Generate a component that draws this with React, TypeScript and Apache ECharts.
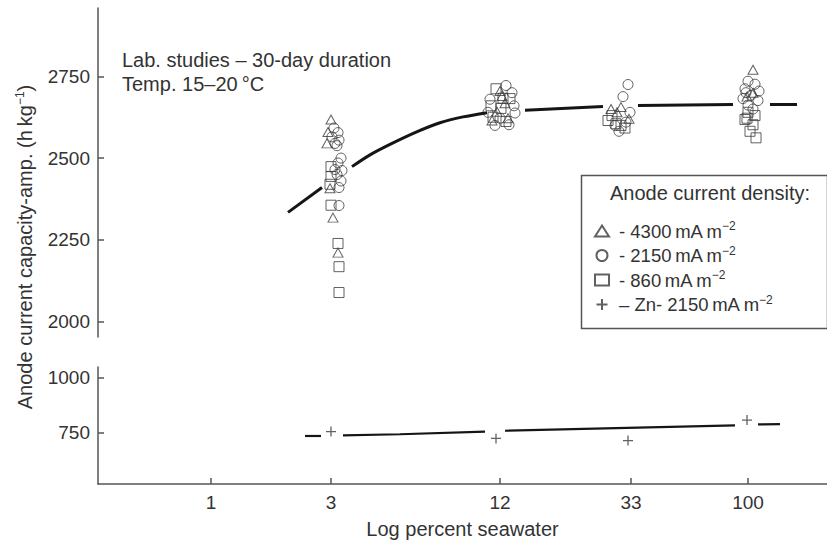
import React, { useEffect, useRef } from 'react';
import * as echarts from 'echarts';

// x-axis (log percent seawater) tick labels and their positions on the axis
const seawaterLabels = ['1', '3', '12', '33', '100'];
const seawaterPos = [113, 233, 402, 533, 650];

const upperTicks = [2000, 2250, 2500, 2750];
const lowerTicks = [750, 1000];

// points: [tick index, horizontal scatter offset, capacity value]
const tri4300 = [
  [1, 0, 2618], [1, -3, 2580], [1, -4, 2545], [1, -1, 2408], [1, 2, 2318], [1, 7, 2211],
  [2, 0, 2705], [2, 5, 2668], [2, -3, 2642], [2, 8, 2622], [2, 2, 2690], [2, -8, 2615],
  [3, -10, 2656], [3, -14, 2640], [3, -2, 2620], [3, -20, 2650],
  [4, 5, 2770], [4, 5, 2700], [4, -1, 2688],
];
const circ2150 = [
  [1, 3, 2592], [1, 7, 2578], [1, 1, 2565], [1, 8, 2555], [1, 4, 2545], [1, 6, 2538],
  [1, 10, 2500], [1, 7, 2485], [1, 11, 2462], [1, 6, 2450], [1, 10, 2430], [1, 8, 2410], [1, 4, 2465], [1, 8, 2355],
  [2, 6, 2722], [2, 12, 2700], [2, -10, 2680], [2, 14, 2660], [2, -12, 2640], [2, 0, 2622], [2, 9, 2602], [2, 15, 2638], [2, -5, 2600],
  [3, -3, 2725], [3, -8, 2688], [3, -1, 2640], [3, -16, 2600], [3, -5, 2610], [3, -12, 2582],
  [4, 0, 2735], [4, 7, 2726], [4, -3, 2712], [4, 11, 2705], [4, 3, 2692], [4, -5, 2682], [4, 10, 2676], [4, 0, 2662], [4, 5, 2650], [4, -2, 2700],
];
const sq860 = [
  [1, 0, 2474], [1, 0, 2444], [1, -1, 2420], [1, 0, 2356], [1, 7, 2239], [1, 8, 2168], [1, 8, 2089],
  [2, -4, 2712], [2, 3, 2683], [2, -9, 2660], [2, 10, 2682], [2, 1, 2652], [2, 6, 2612], [2, -7, 2625],
  [3, -19, 2630], [3, -23, 2615], [3, -10, 2600], [3, -6, 2592], [3, -15, 2605],
  [4, 0, 2640], [4, 7, 2630], [4, -3, 2618], [4, 5, 2602], [4, 2, 2582], [4, 8, 2562], [4, -1, 2622],
];
const zn2150 = [
  [1, 0, 753], [2, -4, 722], [3, -3, 712], [4, -1, 806],
];

// fitted curve for magnesium/aluminium anodes (null = gap around the data clusters)
const fitX = [190, 224, null, 254, 272, 292, 317, 342, 365, 389, null, 427, 505, null, 540, 635, null, 672, 699];
const fitY = [2334, 2410, null, 2474, 2510, 2542, 2578, 2608, 2626, 2639, null, 2646, 2658, null, 2661, 2664, null, 2664, 2664];

// fitted line for zinc anodes
const znX = [207, 223, null, 245, 302, 387, null, 407, 637, null, 660, 682];
const znY = [733, 733, null, 736, 741, 753, null, 757, 782, null, 786, 787];

const FONT = '"Liberation Sans", Arial, Helvetica, sans-serif';
const TEXT = '#333';
const AXIS = '#555';
const TS = '\u2009';

function segments(xs: (number | null)[], ys: (number | null)[]) {
  const out: number[][][] = [];
  let cur: number[][] = [];
  xs.forEach((x, i) => {
    const y = ys[i];
    if (x === null || y === null) {
      if (cur.length) out.push(cur);
      cur = [];
    } else {
      cur.push([x, y]);
    }
  });
  if (cur.length) out.push(cur);
  return out;
}

const toXY = (pts: number[][]) => pts.map((p) => [seawaterPos[p[0]] + p[1], p[2]]);

const legendText: Record<string, string> = {
  '4300': `{t|- 4300${TS}mA${TS}m}{s|−2}`,
  '2150': `{t|- 2150${TS}mA${TS}m}{s|−2}`,
  '860': `{t|- 860${TS}mA${TS}m}{s|−2}`,
  Zn: `{t|– Zn- 2150${TS}mA${TS}m}{s|−2}`,
};

export default function App() {
  const ref = useRef<HTMLDivElement>(null);

  useEffect(() => {
    if (!ref.current) return;
    const chart = echarts.init(ref.current, undefined, { renderer: 'svg' });

    const symStyle = { color: 'rgba(0,0,0,0)', borderColor: '#3a3a3a', borderWidth: 1 };

    const curveSeries = segments(fitX, fitY).map((seg) => ({
      type: 'line',
      xAxisIndex: 0,
      yAxisIndex: 0,
      data: seg,
      smooth: 0.3,
      showSymbol: false,
      symbol: 'none',
      lineStyle: { color: '#151515', width: 3 },
      silent: true,
    }));
    const znSeries = segments(znX, znY).map((seg) => ({
      type: 'line',
      xAxisIndex: 1,
      yAxisIndex: 1,
      data: seg,
      showSymbol: false,
      symbol: 'none',
      lineStyle: { color: '#151515', width: 2.2 },
      silent: true,
    }));

    const xCommon = {
      type: 'value',
      min: 0,
      max: 729,
      splitLine: { show: false },
    };

    const yLabel = {
      fontSize: 19,
      color: TEXT,
      fontFamily: FONT,
      margin: 8,
      formatter: (v: number) => String(v),
    };

    chart.setOption({
      animation: false,
      backgroundColor: '#fff',
      textStyle: { fontFamily: FONT },
      grid: [
        { left: 98, right: 0, top: 8, height: 329 },
        { left: 98, right: 0, top: 367, height: 117 },
      ],
      xAxis: [
        { ...xCommon, gridIndex: 0, show: false },
        {
          ...xCommon,
          gridIndex: 1,
          axisLine: { show: true, lineStyle: { color: AXIS, width: 1.5 } },
          axisTick: {
            show: true,
            inside: true,
            length: 6,
            customValues: seawaterPos,
            lineStyle: { color: AXIS, width: 1.5 },
          },
          axisLabel: {
            customValues: seawaterPos,
            formatter: (v: number) => {
              const i = seawaterPos.indexOf(v);
              return i >= 0 ? seawaterLabels[i] : '';
            },
            fontSize: 19,
            color: TEXT,
            fontFamily: FONT,
            margin: 9,
          },
          name: 'Log percent seawater',
          nameLocation: 'middle',
          nameGap: 35,
          nameTextStyle: { fontSize: 20, color: TEXT, fontFamily: FONT },
        },
      ],
      yAxis: [
        {
          type: 'value',
          gridIndex: 0,
          min: 1953,
          max: 2959,
          splitLine: { show: false },
          axisLine: { show: true, lineStyle: { color: AXIS, width: 1.5 } },
          axisTick: { show: true, inside: true, length: 6, customValues: upperTicks, lineStyle: { color: AXIS, width: 1.5 } },
          axisLabel: { ...yLabel, customValues: upperTicks },
        },
        {
          type: 'value',
          gridIndex: 1,
          min: 513,
          max: 1049,
          splitLine: { show: false },
          axisLine: { show: true, lineStyle: { color: AXIS, width: 1.5 } },
          axisTick: { show: true, inside: true, length: 6, customValues: lowerTicks, lineStyle: { color: AXIS, width: 1.5 } },
          axisLabel: { ...yLabel, customValues: lowerTicks },
        },
      ],
      legend: {
        data: ['4300', '2150', '860', 'Zn'],
        orient: 'vertical',
        left: 589,
        top: 215,
        itemGap: 4,
        itemWidth: 14,
        itemHeight: 11,
        formatter: (name: string) => legendText[name],
        selectedMode: false,
        textStyle: {
          rich: {
            t: { fontSize: 18.5, color: TEXT, fontFamily: FONT, lineHeight: 22, padding: [0, 0, 0, 5] },
            s: { fontSize: 12, color: TEXT, fontFamily: FONT, lineHeight: 13, verticalAlign: 'top' },
          },
        },
      },
      graphic: [
        {
          type: 'rect',
          left: 579,
          top: 173,
          shape: { width: 246, height: 153 },
          style: { fill: 'none', stroke: AXIS, lineWidth: 1.5 },
        },
        {
          type: 'text',
          x: 710,
          y: 193,
          style: {
            text: 'Anode current density:',
            font: `20px ${FONT}`,
            fill: TEXT,
            align: 'center',
            verticalAlign: 'middle',
          },
        },
        {
          type: 'text',
          x: 122,
          y: 72,
          style: {
            text: 'Lab. studies – 30-day duration\nTemp. 15–20\u2009°C',
            font: `20px ${FONT}`,
            fill: TEXT,
            lineHeight: 24,
            align: 'left',
            verticalAlign: 'middle',
          },
        },
        {
          type: 'text',
          x: 25,
          y: 247,
          rotation: Math.PI / 2,
          style: {
            text: '{t|Anode current capacity-amp. (h}{t|\u2009kg}{s|−1}{t|)}',
            align: 'center',
            verticalAlign: 'middle',
            rich: {
              t: { fontSize: 20, fill: TEXT, fontFamily: FONT, lineHeight: 22 },
              s: { fontSize: 12, fill: TEXT, fontFamily: FONT, lineHeight: 13, verticalAlign: 'top' },
            },
          },
        },
      ],
      series: [
        ...curveSeries,
        ...znSeries,
        {
          name: '4300',
          type: 'scatter',
          xAxisIndex: 0,
          yAxisIndex: 0,
          symbol: 'triangle',
          symbolSize: [10, 9],
          itemStyle: symStyle,
          data: toXY(tri4300),
        },
        {
          name: '2150',
          type: 'scatter',
          xAxisIndex: 0,
          yAxisIndex: 0,
          symbol: 'circle',
          symbolSize: 10,
          itemStyle: symStyle,
          data: toXY(circ2150),
        },
        {
          name: '860',
          type: 'scatter',
          xAxisIndex: 0,
          yAxisIndex: 0,
          symbol: 'rect',
          symbolSize: 10,
          itemStyle: symStyle,
          data: toXY(sq860),
        },
        {
          name: 'Zn',
          type: 'scatter',
          xAxisIndex: 1,
          yAxisIndex: 1,
          symbol: 'path://M5,0L5,10M0,5L10,5',
          symbolSize: 10,
          itemStyle: { color: 'rgba(0,0,0,0)', borderColor: '#3a3a3a', borderWidth: 1.3 },
          data: toXY(zn2150),
        },
      ],
    });

    return () => chart.dispose();
  }, []);

  return (
    <div
      ref={ref}
      style={{ position: 'fixed', left: 0, top: 0, width: 827, height: 540 }}
    />
  );
}
